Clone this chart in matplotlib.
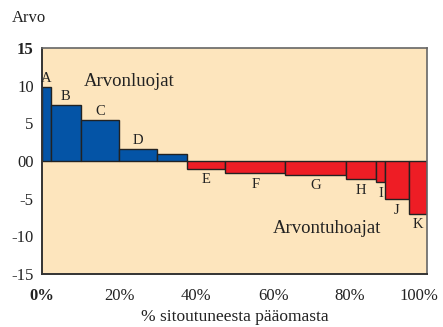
#!/usr/bin/env python3

import matplotlib
matplotlib.use("Agg")
import matplotlib.pyplot as plt
from matplotlib.transforms import ScaledTranslation
import numpy as np

plt.rcParams['font.family'] = ['Liberation Serif', 'DejaVu Serif']

# share of invested capital (%) and value for each unit
labels = ["A", "B", "C", "D", "", "E", "F", "G", "H", "I", "J", "K"]
widths = [2.3, 7.8, 9.9, 9.8, 7.9, 9.9, 15.6, 15.8, 7.8, 2.2, 6.2, 4.8]
values = [9.8, 7.4, 5.45, 1.55, 0.95, -1.05, -1.6, -1.8, -2.4, -2.8, -5.1, -7.0]

yticks = [15, 10, 5, 0, -5, -10, -15]
ytick_labels = ["15", "10", "5", "00", "-5", "-10", "-15"]
xticks = [0, 20, 40, 60, 80, 100]
xtick_labels = ["0%", "20%", "40%", "60%", "80%", "100%"]

lefts = np.concatenate([[0], np.cumsum(widths)[:-1]])
colors = ["#0454a6" if v > 0 else "#ee1d25" for v in values]

fig = plt.figure(figsize=(4.43, 3.27), dpi=100)
ax = fig.add_axes([0.095, 0.162, 0.869, 0.691])
ax.set_facecolor("#fde5bd")

ax.bar(lefts, values, width=widths, align="edge", color=colors,
       edgecolor="#222222", linewidth=1.0)

for x, w, v, lab in zip(lefts, widths, values, labels):
    if not lab:
        continue
    if v > 0:
        ax.text(x + w / 2, v + 0.3, lab, ha="center", va="bottom", fontsize=10.5, color="#222222")
    else:
        ax.text(x + w / 2, v - 0.6, lab, ha="center", va="top", fontsize=10.5, color="#222222")

ax.text(10.8, 10.6, "Arvonluojat", ha="left", va="center", fontsize=13.5, color="#222222")
ax.text(60.0, -9.0, "Arvontuhoajat", ha="left", va="center", fontsize=13.5, color="#222222")

ax.set_xlim(0, 100)
ax.set_ylim(-15, 15)
ax.set_yticks(yticks)
ax.set_yticklabels(ytick_labels, fontsize=12)
ax.set_xticks(xticks)
ax.set_xticklabels(xtick_labels, fontsize=12)
ax.get_yticklabels()[0].set_fontweight("bold")
ax.get_xticklabels()[0].set_fontweight("bold")
ax.tick_params(axis="both", length=0, colors="#222222")
ax.tick_params(axis="y", pad=6)
ax.tick_params(axis="x", pad=10)

# keep the last percentage label inside the figure
last = ax.get_xticklabels()[-1]
last.set_transform(last.get_transform() + ScaledTranslation(-6 / 72, 0, fig.dpi_scale_trans))

for side in ["left", "bottom"]:
    ax.spines[side].set_color("#333333")
    ax.spines[side].set_linewidth(1.4)
for side in ["top", "right"]:
    ax.spines[side].set_color("#666666")
    ax.spines[side].set_linewidth(1.2)

ax.set_xlabel("% sitoutuneesta pääomasta", fontsize=12.5, color="#222222", labelpad=4)
fig.text(0.027, 0.945, "Arvo", ha="left", va="center", fontsize=12, color="#222222")

fig.savefig("out.png", dpi=100)
